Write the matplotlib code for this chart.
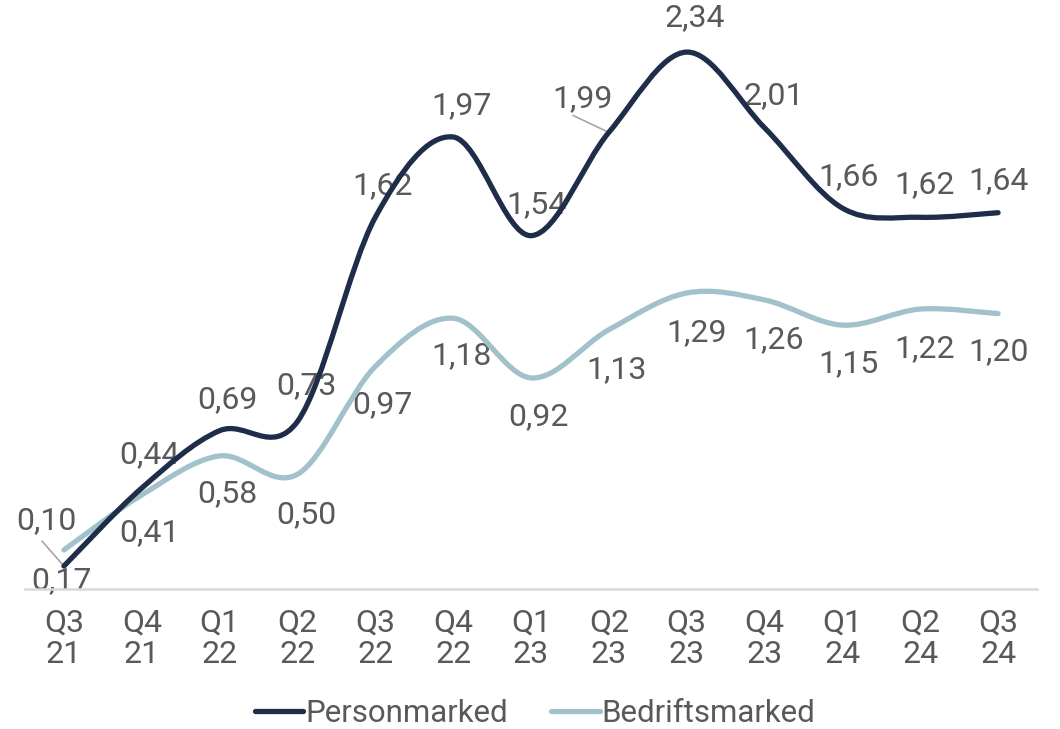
import numpy as np
import matplotlib
matplotlib.use("Agg")
from matplotlib import pyplot as plt
from matplotlib.path import Path
from matplotlib.patches import PathPatch
from matplotlib.lines import Line2D

plt.rcParams["font.family"] = ["Roboto", "DejaVu Sans"]

# Data
quarters = ["Q3\n21", "Q4\n21", "Q1\n22", "Q2\n22", "Q3\n22", "Q4\n22", "Q1\n23",
            "Q2\n23", "Q3\n23", "Q4\n23", "Q1\n24", "Q2\n24", "Q3\n24"]
personmarked = [0.10, 0.44, 0.69, 0.73, 1.62, 1.97, 1.54, 1.99, 2.34, 2.01, 1.66, 1.62, 1.64]
bedriftsmarked = [0.17, 0.41, 0.58, 0.50, 0.97, 1.18, 0.92, 1.13, 1.29, 1.26, 1.15, 1.22, 1.20]

dark = "#1f2d4a"
light = "#a2c2cb"
grey_txt = "#595959"

# label offsets in pixels (dx, dy up)
off_person = [(-17, 45), (8, 33), (8, 31), (9, 36), (7, 32), (8, 31), (5, 31),
              (-26, 34), (8, 34), (9, 32), (6, 31), (4, 33), (0, 32)]
off_bedrift = [(-2, -31), (8, -38), (8, -38), (9, -40), (7, -38), (8, -37), (7, -39),
               (8, -40), (10, -40), (9, -40), (6, -38), (4, -40), (0, -38)]


def smooth_path(xs, ys):
    # Excel-like smoothed line: Catmull-Rom as cubic Bezier
    pts = np.column_stack([xs, ys]).astype(float)
    n = len(pts)
    verts = [pts[0]]
    codes = [Path.MOVETO]
    for i in range(n - 1):
        p0 = pts[max(i - 1, 0)]
        p1 = pts[i]
        p2 = pts[i + 1]
        p3 = pts[min(i + 2, n - 1)]
        c1 = p1 + (p2 - p0) / 6
        c2 = p2 - (p3 - p1) / 6
        verts += [c1, c2, p2]
        codes += [Path.CURVE4] * 3
    return Path(verts, codes)


fig = plt.figure(figsize=(10.6, 7.29), dpi=100)
ax = fig.add_axes([25 / 1060, (729 - 589) / 729, (1037 - 25) / 1060, 589 / 729])
x = np.arange(len(quarters))

for vals, col in [(bedriftsmarked, light), (personmarked, dark)]:
    ax.add_patch(PathPatch(smooth_path(x, vals), facecolor="none", edgecolor=col,
                           lw=3.8, capstyle="round", joinstyle="round", zorder=3))

ax.set_xlim(-0.5, len(quarters) - 0.5)
ax.set_ylim(0, 2.567)

for vals, offs in [(personmarked, off_person), (bedriftsmarked, off_bedrift)]:
    for i, v in enumerate(vals):
        ax.annotate(f"{v:.2f}".replace(".", ","), (i, v), xytext=offs[i],
                    textcoords="offset pixels", ha="center", va="center",
                    fontsize=23, color=grey_txt, zorder=2)

# leader lines
for i, v, start in [(0, personmarked[0], (-22, 25)), (7, personmarked[7], (-36, 17))]:
    ax.annotate("", (i, v), xytext=start, textcoords="offset pixels",
                arrowprops=dict(arrowstyle="-", color="#a6a6a6", lw=1.2,
                                shrinkA=0, shrinkB=0), zorder=2)

for s in ["top", "right", "left"]:
    ax.spines[s].set_visible(False)
ax.spines["bottom"].set_color("#d9d9d9")
ax.spines["bottom"].set_linewidth(1.8)
ax.set_yticks([])
ax.set_xticks(x)
ax.set_xticklabels(quarters, fontsize=23, color=grey_txt, linespacing=1.12)
ax.tick_params(axis="x", length=0, pad=14)

handles = [Line2D([], [], color=dark, lw=3.8, solid_capstyle="round"),
           Line2D([], [], color=light, lw=3.8, solid_capstyle="round")]
fig.legend(handles, ["Personmarked", "Bedriftsmarked"], loc="center",
           bbox_to_anchor=(535 / 1060, 1 - 713 / 729), ncol=2, frameon=False,
           fontsize=22.5, labelcolor=grey_txt, handlelength=1.55, handletextpad=0.05,
           columnspacing=1.4)

fig.savefig("out.png", dpi=100)
